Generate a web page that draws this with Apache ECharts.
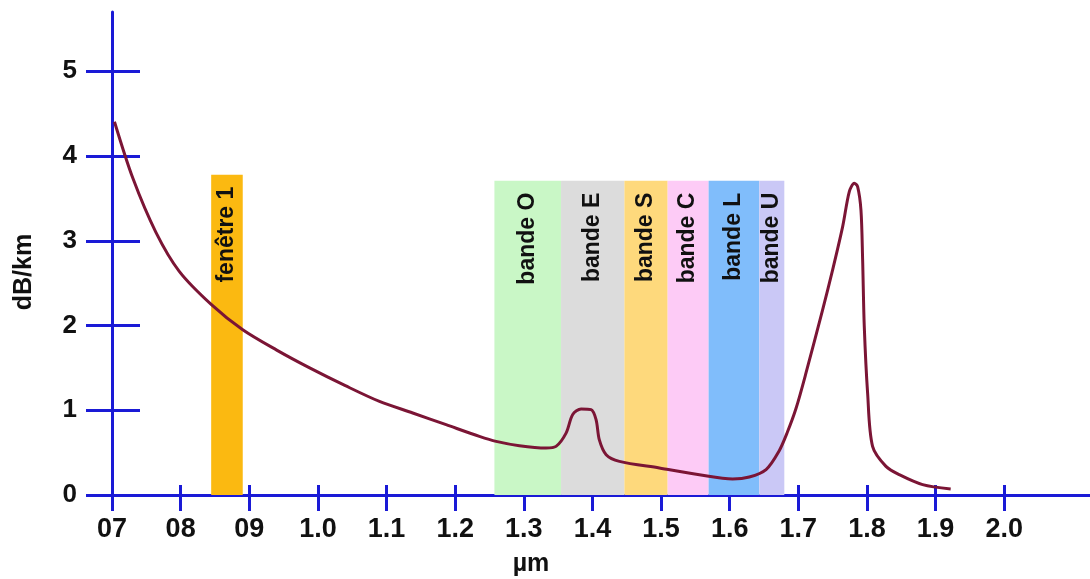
<!DOCTYPE html>
<html>
<head>
<meta charset="utf-8">
<script src="https://cdn.jsdelivr.net/npm/echarts@6/dist/echarts.min.js"></script>
<style>
  html, body { margin: 0; padding: 0; background: #fff; }
  #main { width: 1090px; height: 579px; }
</style>
</head>
<body>
<div id="main"></div>
<script>
// courbe d'atténuation de la fibre
const wavelength = [0.7036, 0.7303, 0.764, 0.798, 0.8445, 0.8905, 0.94, 0.988, 1.04, 1.0897, 1.1382,
    1.1868, 1.2353, 1.2597, 1.2936, 1.3325, 1.347, 1.3616, 1.3713, 1.3835, 1.398, 1.4053, 1.4101, 1.42,
    1.4393, 1.4975, 1.5558, 1.6043, 1.6286, 1.653, 1.672, 1.684, 1.6966, 1.7112, 1.7354, 1.75, 1.7646, 1.7743,
    1.7816, 1.7864, 1.7913, 1.7937, 1.7961, 1.801, 1.8082, 1.8277, 1.8471, 1.8811, 1.922];
const attenuation = [4.405, 3.74, 3.1, 2.64, 2.25, 1.95, 1.71, 1.5, 1.29, 1.104, 0.968,
    0.83, 0.692, 0.633, 0.582, 0.555, 0.574, 0.73, 0.95, 1.015, 1.007, 0.89, 0.65, 0.476,
    0.397, 0.319, 0.24, 0.19, 0.213, 0.3, 0.52, 0.74, 1.02, 1.44, 2.185, 2.657, 3.167, 3.58,
    3.68, 3.64, 3.36, 2.78, 1.99, 1.2, 0.574, 0.338, 0.24, 0.123, 0.072];

// bandes
const bandNames = ['fenêtre 1', 'bande O', 'bande E', 'bande S', 'bande C', 'bande L', 'bande U'];
const bandStart = [0.8445, 1.2572, 1.3543, 1.4466, 1.5096, 1.5693, 1.6431];
const bandEnd = [0.8905, 1.3543, 1.4466, 1.5096, 1.5693, 1.6431, 1.6796];
const bandTop = [3.78, 3.71, 3.71, 3.71, 3.71, 3.71, 3.71];
const bandColors = ['#fbb911', '#c9f7c6', '#dcdcdc', '#fed97c', '#fdcbf6', '#80bdfb', '#cac8f6'];

// axes
const xTicks = [0.7, 0.8, 0.9, 1.0, 1.1, 1.2, 1.3, 1.4, 1.5, 1.6, 1.7, 1.8, 1.9, 2.0];
const xTickLabels = ['07', '08', '09', '1.0', '1.1', '1.2', '1.3', '1.4', '1.5', '1.6', '1.7', '1.8', '1.9', '2.0'];
const yTicks = [0, 1, 2, 3, 4, 5];

const axisBlue = '#1a1ad6';
const font = "'Liberation Sans', Arial, sans-serif";

const gridBox = { left: 112, right: 0, top: 12, bottom: 84 };

const areaData = bandNames.map(function (name, i) {
    return [
        {
            name: name,
            xAxis: bandStart[i],
            yAxis: 0,
            itemStyle: { color: bandColors[i], opacity: 1 }
        },
        { xAxis: bandEnd[i], yAxis: bandTop[i] }
    ];
});

function xLabel(v) {
    const i = xTicks.findIndex(function (t) { return Math.abs(t - v) < 1e-6; });
    return i >= 0 ? xTickLabels[i] : '';
}

var option = {
    animation: false,
    backgroundColor: '#fff',
    grid: [
        Object.assign({}, gridBox),
        Object.assign({}, gridBox)
    ],
    xAxis: [
        {
            type: 'value', gridIndex: 0, min: 0.7, max: 2.125,
            splitLine: { show: false },
            axisLine: { lineStyle: { color: axisBlue, width: 3 } },
            axisTick: { customValues: xTicks, length: 16, lineStyle: { color: axisBlue, width: 3 } },
            axisLabel: {
                customValues: xTicks, formatter: xLabel, margin: 21,
                color: '#111', fontSize: 27, fontWeight: 'bold', fontFamily: font
            }
        },
        {
            type: 'value', gridIndex: 1, min: 0.7, max: 2.125,
            splitLine: { show: false },
            axisLine: { show: false },
            axisTick: { customValues: xTicks, inside: true, length: 10, lineStyle: { color: axisBlue, width: 3 } },
            axisLabel: { show: false }
        }
    ],
    yAxis: [
        {
            type: 'value', gridIndex: 0, min: 0, max: 5.7,
            splitLine: { show: false },
            axisLine: { show: true, lineStyle: { color: axisBlue, width: 3 } },
            axisTick: { show: true, customValues: yTicks, length: 26, lineStyle: { color: axisBlue, width: 3 } },
            axisLabel: {
                customValues: yTicks, margin: 35,
                color: '#111', fontSize: 26, fontWeight: 'bold', fontFamily: font
            }
        },
        {
            type: 'value', gridIndex: 1, min: 0, max: 5.7,
            splitLine: { show: false },
            axisLine: { show: false },
            axisTick: { show: true, customValues: yTicks, inside: true, length: 28, lineStyle: { color: axisBlue, width: 3 } },
            axisLabel: { show: false }
        }
    ],
    graphic: [
        {
            type: 'text', x: 24, y: 272, rotation: Math.PI / 2,
            style: { text: 'dB/km', align: 'center', verticalAlign: 'middle', fill: '#111', font: 'bold 25px ' + font }
        },
        {
            type: 'text', x: 531, y: 564,
            style: { text: 'µm', align: 'center', verticalAlign: 'middle', fill: '#111', font: 'bold 25px ' + font }
        }
    ],
    series: [
        {
            type: 'line',
            xAxisIndex: 0,
            yAxisIndex: 0,
            z: 3,
            data: wavelength.map(function (w, i) { return [w, attenuation[i]]; }),
            showSymbol: false,
            smooth: 0.3,
            lineStyle: { color: '#7b1535', width: 3 },
            markArea: {
                silent: true,
                z: 1,
                label: {
                    show: true,
                    position: 'insideTop',
                    distance: 12,
                    rotate: 90,
                    align: 'right',
                    verticalAlign: 'middle',
                    color: '#111',
                    fontSize: 23,
                    fontWeight: 'bold',
                    fontFamily: font
                },
                data: areaData
            }
        }
    ]
};
var myChart = echarts.init(document.getElementById('main'));
option && myChart.setOption(option);
</script>
</body>
</html>
